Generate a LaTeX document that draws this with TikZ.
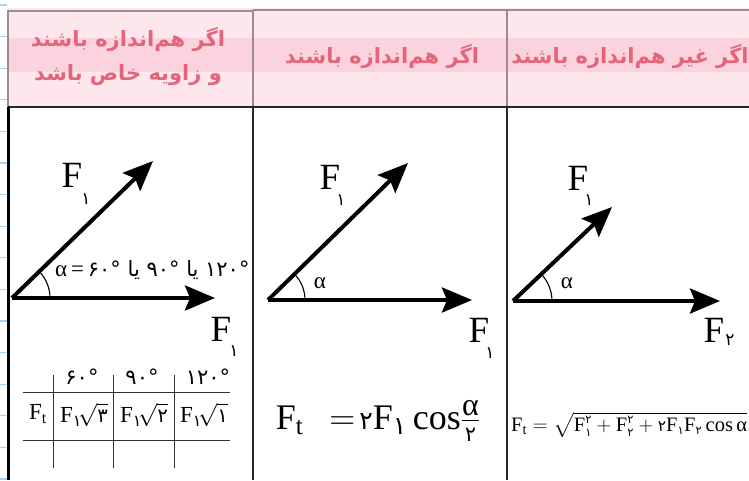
\RequirePackage{fix-cm}
\documentclass[tikz,border=0pt]{standalone}
\usepackage{amsmath}
\usepackage{fontspec}
\setmainfont{Liberation Serif}
\newfontfamily\fa[Script=Arabic]{DejaVu Sans}
\TeXXeTstate=1
\usetikzlibrary{arrows.meta}
\definecolor{hdrfill}{HTML}{FDE6EC}
\definecolor{hdrband}{HTML}{FAD3DE}
\definecolor{hdrline}{HTML}{9E8A91}
\definecolor{hdrtext}{HTML}{E4657A}
\definecolor{tick}{HTML}{A9D2F2}
\newcommand\pd[2][1]{\text{\fa\scalebox{#1}{#2}}}
\begin{document}
\begin{tikzpicture}[x=1pt,y=-1pt,
  vec/.style={line width=4pt,-{Stealth[length=30pt,width=25pt,inset=5pt]}},
  anglearc/.style={line width=1.1pt},
  hdr/.style={text=hdrtext,font=\fa\bfseries\fontsize{21}{24}\selectfont,inner sep=0pt},
  flab/.style={font=\fontsize{37}{37}\selectfont,inner sep=0pt},
  fsub/.style={font=\fa\fontsize{17}{17}\selectfont,inner sep=0pt},
  alab/.style={font=\fontsize{23}{23}\selectfont,inner sep=0pt},
  deg/.style={font=\fa\fontsize{21}{21}\selectfont,inner sep=0pt},
  cell/.style={font=\fontsize{23}{23}\selectfont,inner sep=0pt},
  grid/.style={line width=0.9pt,black!80},
  colline/.style={line width=2.6pt,black!85}]
\useasboundingbox (0,0) rectangle (749,480);
\fill[white] (0,0) rectangle (749,480);
% left blue ticks
\foreach \yy in {5,36.6,...,480} \draw[tick,line width=1.2pt] (0,\yy) -- (7,\yy);
% header
\fill[hdrfill] (8,8) rectangle (749,107);
\fill[hdrband] (8,38) rectangle (749,72);
\draw[hdrline,line width=1.6pt] (8,11) rectangle (253,107);
\draw[hdrline,line width=1.6pt] (253,10) -- (507,10);
\draw[hdrline,line width=1.6pt] (507,10) -- (749,10);
\draw[hdrline,line width=1.6pt] (507,10) -- (507,107);
\node[hdr] (h1a) at (128,40) {\beginR اگر هم‌اندازه باشند\endR};
\node[hdr] (h1b) at (128,75) {\beginR و زاویه خاص باشد\endR};
\node[hdr] (h2) at (382,57) {\beginR اگر هم‌اندازه باشند\endR};
\node[hdr] (h3) at (630,57) {\beginR اگر غیر هم‌اندازه باشند\endR};
% body frame
\draw[colline] (8,107) -- (749,107);
\draw[line width=3pt,black] (8,107) -- (8,480);
\draw[colline] (253,107) -- (253,480);
\draw[colline] (507,107) -- (507,480);
% ---- column 1
\coordinate (o1) at (12,298);
\coordinate (a1) at (153,161);
\coordinate (b1) at (215,298);
\draw[vec] (o1) -- (a1);
\draw[vec] (o1) -- (b1);
\draw[anglearc] (o1) ++(38,0) arc[start angle=0,end angle=-44,radius=38];
\node[flab] (F1a) at (72,175) {F};
\node[fsub] (s1a) at (86,199) {۱};
\node[flab] (F1b) at (221,329) {F};
\node[fsub] (s1b) at (234,351) {۱};
\node[inner sep=0pt,anchor=west] (alist) at (55,270) {{\fontsize{23}{23}\selectfont α\,=\,}{\fa\fontsize{21}{21}\selectfont ۶۰° \beginR یا\endR{} ۹۰° \beginR یا\endR{} ۱۲۰°}};
% table
\coordinate (t1) at (23,392); \coordinate (t2) at (230,392);
\coordinate (t3) at (23,440); \coordinate (t4) at (230,440);
\draw[grid] (t1) -- (t2);
\draw[grid] (t3) -- (t4);
\foreach \xx in {53,113,174} \draw[grid] (\xx,375) -- (\xx,468);
\node[deg] (d60) at (82,377) {۶۰°};
\node[deg] (d90) at (142,377) {۹۰°};
\node[deg] (d120) at (208,377) {۱۲۰°};
\node[cell] (ft) at (38,414) {$\text{F}_{\text{t}}$};
\node[cell] (c1) at (84,415) {$\text{F}_{\pd{۱}}\!\sqrt{\pd[0.85]{۳}}$};
\node[cell] (c2) at (144,415) {$\text{F}_{\pd{۱}}\!\sqrt{\pd[0.85]{۲}}$};
\node[cell] (c3) at (204,415) {$\text{F}_{\pd{۱}}\!\sqrt{\pd[0.85]{۱}}$};
% ---- column 2
\coordinate (o2) at (268,300);
\coordinate (a2) at (408,163);
\coordinate (b2) at (472,300);
\draw[vec] (o2) -- (a2);
\draw[vec] (o2) -- (b2);
\draw[anglearc] (o2) ++(37,0) arc[start angle=0,end angle=-44,radius=37];
\node[alab] (al2) at (320,283) {α};
\node[flab] (F2a) at (330,177) {F};
\node[fsub] (s2a) at (341,200) {۱};
\node[flab] (F2b) at (479,330) {F};
\node[fsub] (s2b) at (490,353) {۱};
\node[font=\fontsize{36}{40}\selectfont,inner sep=0pt] (eq2) at (378,421) {$\text{F}_{\text{t}}\;\,=\!\pd[0.7]{۲}\text{F}_{\pd{۱}}\,\text{cos}\frac{\text{\fontsize{32}{32}\selectfont α}}{\text{\fa\fontsize{21}{21}\selectfont ۲}}$};
% ---- column 3
\coordinate (o3) at (513,301);
\coordinate (a3) at (612,207);
\coordinate (b3) at (720,301);
\draw[vec] (o3) -- (a3);
\draw[vec] (o3) -- (b3);
\draw[anglearc] (o3) ++(39,0) arc[start angle=0,end angle=-43.5,radius=39];
\node[alab] (al3) at (567,283) {α};
\node[flab] (F3a) at (578,178) {F};
\node[fsub] (s3a) at (589,200) {۱};
\node[flab] (F3b) at (714,330) {F};
\node[fsub] (s3b) at (730,340) {۲};
\node[font=\fontsize{20.5}{24}\selectfont,inner sep=0pt,anchor=west] (eq3) at (511,425) {$\text{F}_{\text{t}}=\sqrt{\text{F}_{\pd[0.8]{۱}}^{\pd[0.8]{۲}}+\text{F}_{\pd[0.8]{۲}}^{\pd[0.8]{۲}}+\pd[0.75]{۲}\text{F}_{\pd[0.8]{۱}}\text{F}_{\pd[0.8]{۲}}\,\text{cos}\,\text{α}}$};
\end{tikzpicture}
\end{document}
